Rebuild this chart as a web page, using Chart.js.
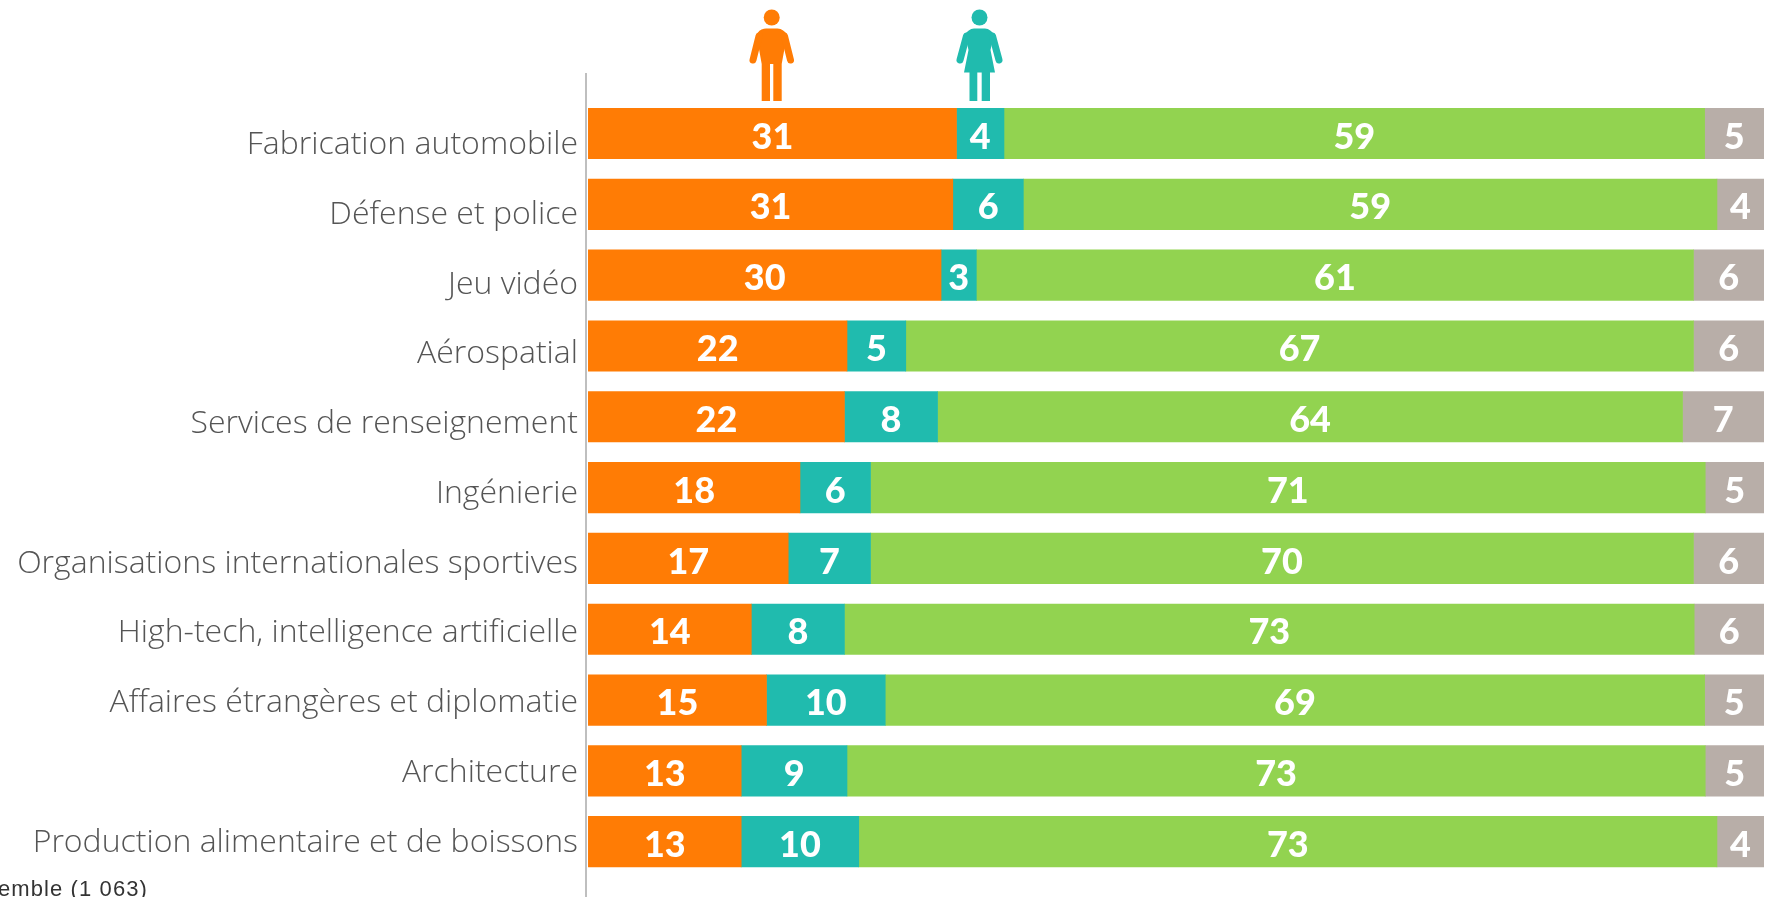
<!DOCTYPE html>
<html><head><meta charset="utf-8">
<style>html,body{margin:0;padding:0;background:#fff;overflow:hidden}#w{position:relative;width:1773px;height:897px}canvas{position:absolute;left:0;top:0}svg{position:absolute;left:0;top:0;pointer-events:none}</style>
<script src="https://cdn.jsdelivr.net/npm/chart.js@4"></script>
</head><body><div id="w"><canvas id="c" width="1773" height="897"></canvas>
<svg width="1773" height="897" viewBox="0 0 1773 897">
<g fill="#FF7C05"><circle cx="771.7" cy="17.5" r="8"/><path d="M766 28.5H777.5Q784 29 787 35L781.7 64V101H773.3V64H770V101H761.7V64L756.5 35Q759 29 766 28.5Z"/></g>
<g fill="none" stroke="#FF7C05" stroke-width="7" stroke-linecap="round"><path d="M759 36L753 60"/><path d="M784.5 36L790.5 60"/></g>
<g fill="#20BBAE"><circle cx="979.5" cy="17.5" r="8"/><path d="M974 28.5H985Q991 29 994 35L990.5 50L995 72.5H990V101H981.7V72.5H977.3V101H969.5V72.5H964L968.5 50L965 35Q968 29 974 28.5Z"/></g>
<g fill="none" stroke="#20BBAE" stroke-width="7" stroke-linecap="round"><path d="M966.5 36L960 60"/><path d="M992.5 36L999 60"/></g>
</svg></div>
<script>
const categories = ["Fabrication automobile","Défense et police","Jeu vidéo","Aérospatial","Services de renseignement","Ingénierie","Organisations internationales sportives","High-tech, intelligence artificielle","Affaires étrangères et diplomatie","Architecture","Production alimentaire et de boissons"];
const hommes  = [31,31,30,22,22,18,17,14,15,13,13];
const femmes  = [4,6,3,5,8,6,7,8,10,9,10];
const les2    = [59,59,61,67,64,71,70,73,69,73,73];
const autres  = [5,4,6,6,7,5,6,6,5,5,4];
const seriesValues = [hommes,femmes,les2,autres];
const seriesNames = ["Hommes","Femmes","Les deux","Sans réponse"];
const seriesColors = ["#FF7C05","#20BBAE","#92D350","#B8AEA8"];
const footnote = "Ensemble (1 063)";

const totals = categories.map((_,i)=>seriesValues.reduce((s,a)=>s+a[i],0));
const datasets = seriesValues.map((vals,k)=>({
  label:seriesNames[k], data:vals.map((v,i)=>v/totals[i]*100), rawValues:vals,
  backgroundColor:seriesColors[k], borderWidth:0, barThickness:50.5, yAxisID:'y', xAxisID:'x'
}));

const layoutFix = {id:'layoutFix', afterLayout(chart){
  const y=chart.scales.y; y.top=98.1; y.bottom=877.1; y.height=779; y.configure();
  const l=chart.scales.yLabels; l.top=110.1; l.bottom=877.3; l.height=767.2; l.configure(); l._labelItems=null;
}};
const valueLabels = {id:'valueLabels', afterDatasetsDraw(chart){
  const c=chart.ctx; c.save(); c.fillStyle='#fff'; c.textAlign='center'; c.textBaseline='middle';
  c.font='900 36px Lato';
  chart.data.datasets.forEach((d,k)=>{
    chart.getDatasetMeta(k).data.forEach((b,i)=>{
      c.fillText(String(d.rawValues[i]),(b.x+b.base)/2,b.y+3.5);
    });
  });
  c.restore();
}};
const note = {id:'note', afterDraw(chart){
  const c=chart.ctx; c.save(); c.fillStyle='#333'; c.textAlign='right'; c.textBaseline='alphabetic';
  c.letterSpacing='1.1px';
  c.font='22px "Liberation Sans"'; c.fillText(footnote,148,896); c.restore();
}};

new Chart(document.getElementById('c'),{
  type:'bar',
  data:{labels:categories,datasets},
  plugins:[layoutFix,valueLabels,note],
  options:{
    indexAxis:'y',responsive:false,animation:false,
    layout:{padding:{top:73,right:9,left:0,bottom:0}},
    events:[],
    plugins:{legend:{display:false},tooltip:{enabled:false},title:{display:false}},
    scales:{
      x:{type:'linear',stacked:true,min:-0.2,max:100,display:true,position:'bottom',
        afterBuildTicks(s){s.ticks=[{value:-0.2}];},
        afterFit(s){s.height=0;},
        ticks:{display:false},border:{display:false},
        grid:{color:'#BFBFBF',lineWidth:2,drawTicks:false,drawOnChartArea:true}},
      y:{type:'category',stacked:true,display:false,offset:true},
      yLabels:{type:'category',labels:categories,position:'left',offset:true,
        afterFit(s){s.width=586;s.paddingTop=0;s.paddingBottom=0;},
        grid:{display:false},border:{display:false},
        ticks:{autoSkip:false,padding:0,color:'#555555',font:{family:'"Open Sans"',size:32,weight:'300'}}}
    }
  }
});
</script></body></html>
